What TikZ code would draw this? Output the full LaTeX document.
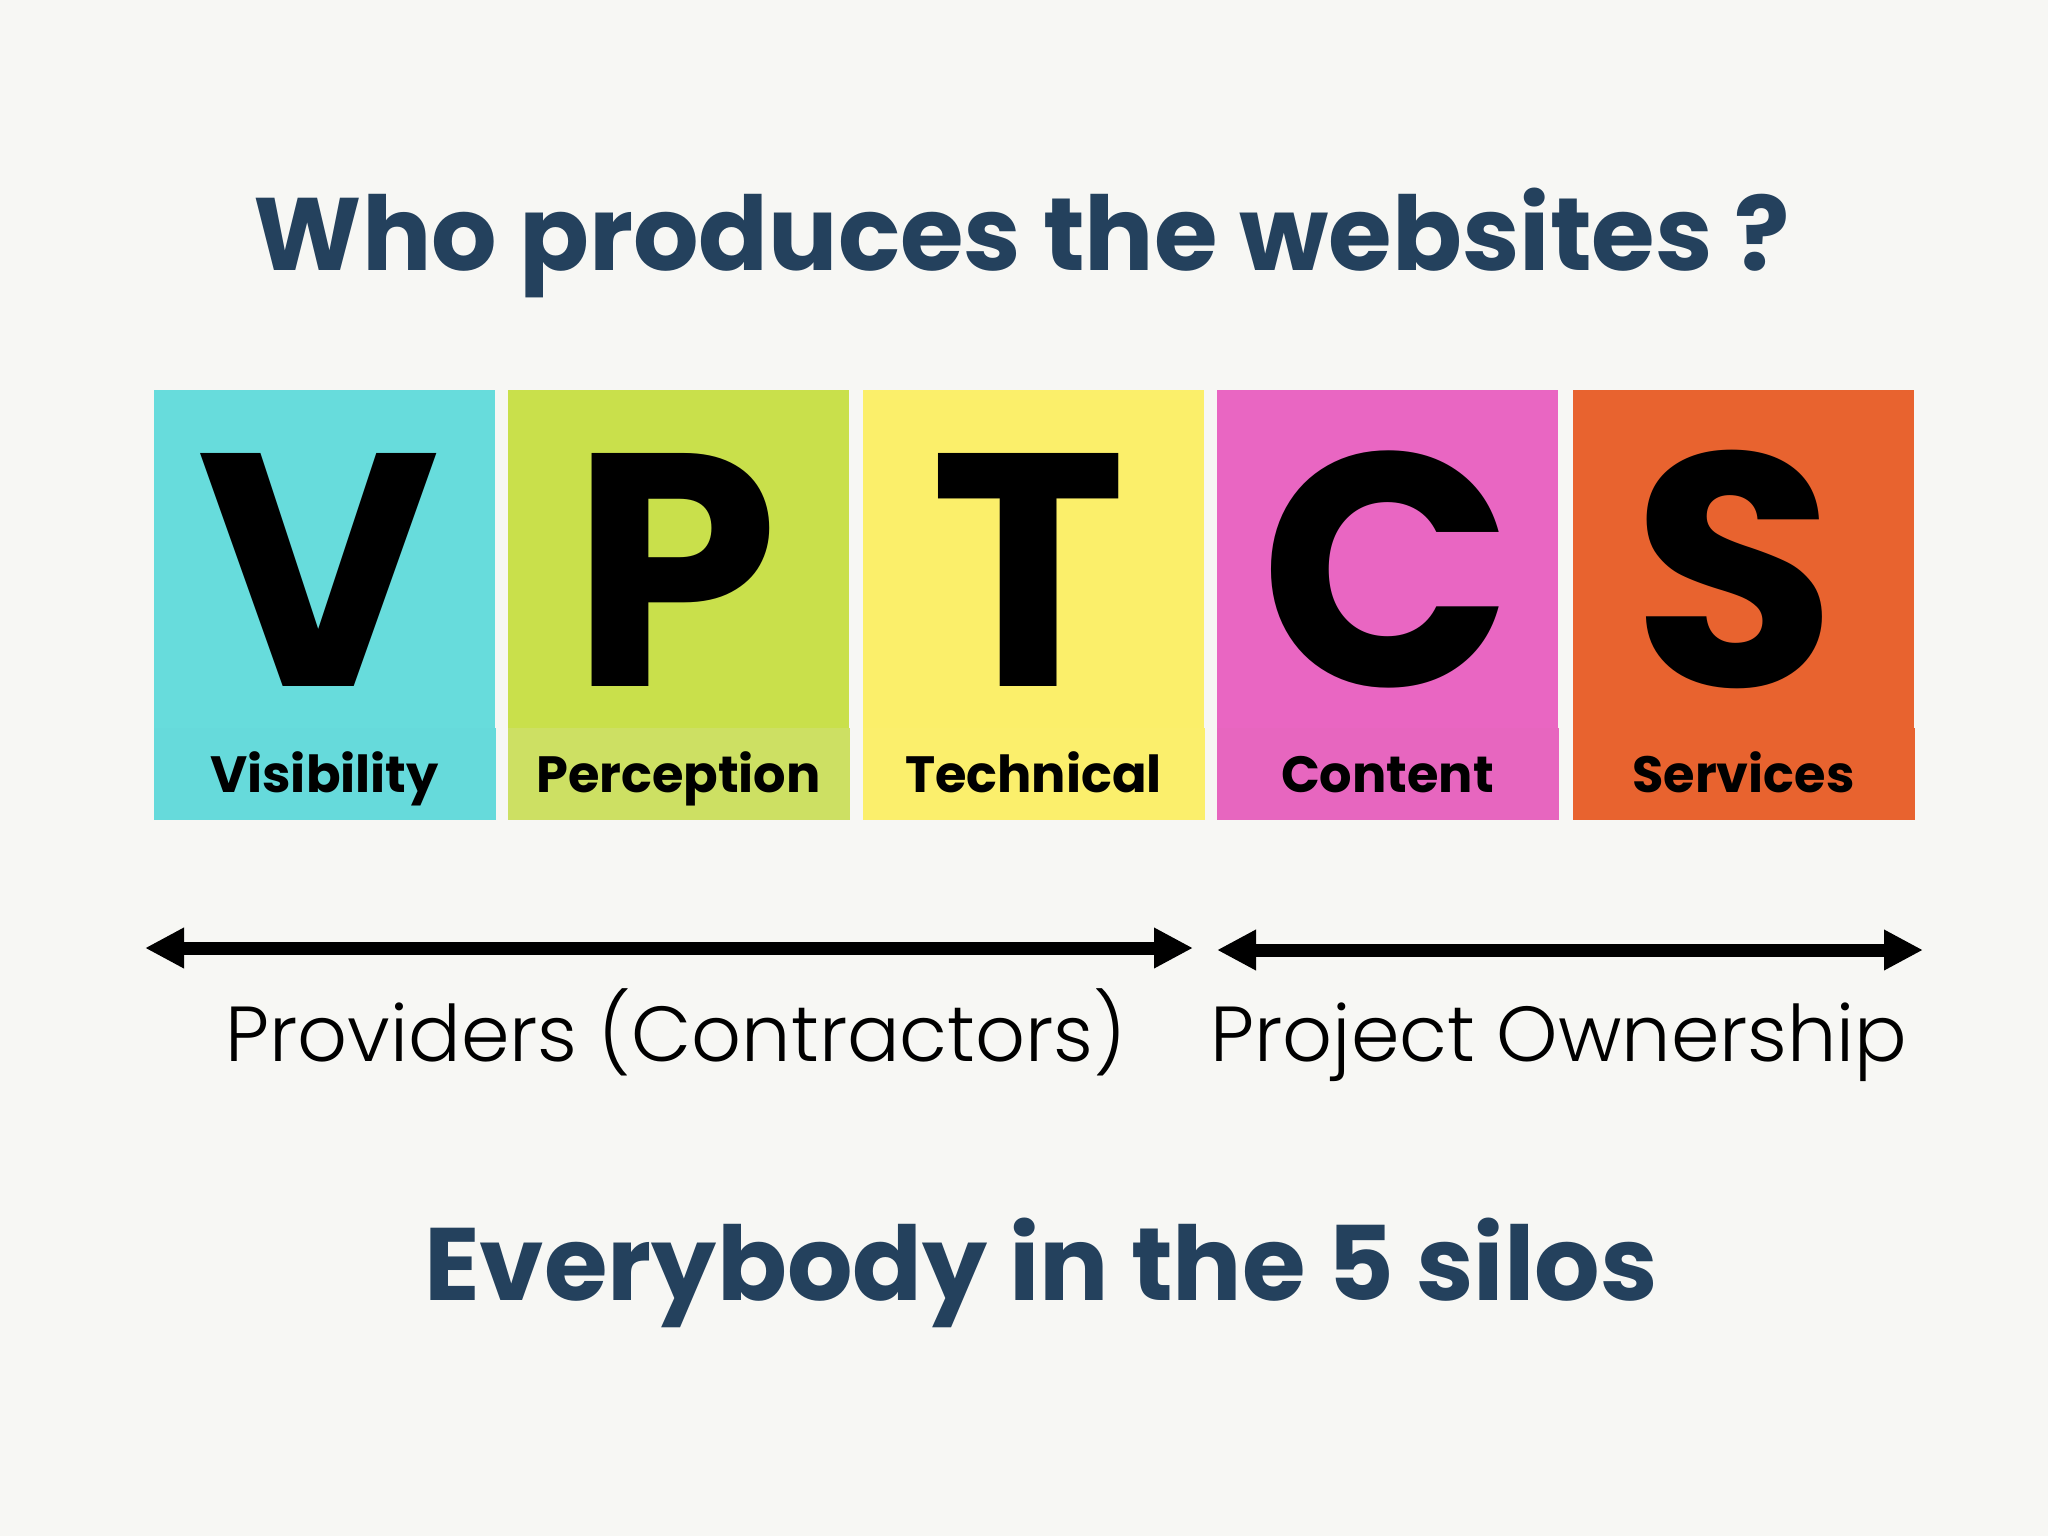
\documentclass[tikz,border=0pt]{standalone}
\usepackage{fontspec}
\setmainfont{Poppins}
\newfontfamily\plight{Poppins Light}
\usetikzlibrary{arrows.meta}
\definecolor{bg}{HTML}{F7F7F4}
\definecolor{navy}{HTML}{24415D}
\definecolor{cV}{HTML}{67DCDC}\definecolor{cVb}{HTML}{66DADB}
\definecolor{cP}{HTML}{C9E04B}\definecolor{cPb}{HTML}{CDE063}
\definecolor{cT}{HTML}{FBEF6A}\definecolor{cTb}{HTML}{FBEF6C}
\definecolor{cC}{HTML}{E966C2}\definecolor{cCb}{HTML}{E766BF}
\definecolor{cS}{HTML}{E8632F}\definecolor{cSb}{HTML}{E8632F}
\tikzset{
  bigletter/.style={anchor=base,inner sep=0pt,text depth=0pt,font=\fontsize{332}{332}\selectfont\bfseries},
  silolabel/.style={anchor=base,inner sep=0pt,text height=40pt,text depth=0pt,font=\fontsize{51}{51}\selectfont\bfseries},
  headline/.style={anchor=base,inner sep=0pt,text=navy,font=\fontsize{103}{103}\selectfont\bfseries},
  grouplabel/.style={anchor=base,inner sep=0pt,font=\fontsize{78}{78}\selectfont\plight},
  span/.style={line width=13pt,{Triangle[length=39pt,width=38pt]}-{Triangle[length=39pt,width=38pt]}}
}
\begin{document}
\begin{tikzpicture}[x=1pt,y=-1pt]
\fill[bg] (0,0) rectangle (2048,1536);
\useasboundingbox (0,0) rectangle (2048,1536);
\node[headline] (title) at (1022,270) {Who produces the websites ?};
% silos
\foreach \x/\c/\L/\d/\T [count=\i] in {154/cV/V/-6/Visibility,508/cP/P/-3/Perception,863/cT/T/-5/Technical,1217/cC/C/-1/Content,1573/cS/S/-9/Services}{
  \fill[\c] (\x,390) rectangle ++(341,338);
  \fill[\c b] (\x,728) rectangle ++(342,92);
  \node[bigletter] (L\i) at (\x+170.5+\d,686) {\L};
  \node[silolabel] (N\i) at (\x+170.5,792) {\T};
}
\coordinate (a1) at (145,948);
\coordinate (a2) at (1193,948);
\coordinate (b1) at (1217,950);
\coordinate (b2) at (1923,950);
\draw[span] (a1) -- (a2);
\draw[span] (b1) -- (b2);
\node[grouplabel] (prov) at (676,1061) {Providers (Contractors)};
\node[grouplabel] (own) at (1559,1061) {Project Ownership};
\node[headline] (bottom) at (1041,1300) {Everybody in the 5 silos};
\end{tikzpicture}
\end{document}
